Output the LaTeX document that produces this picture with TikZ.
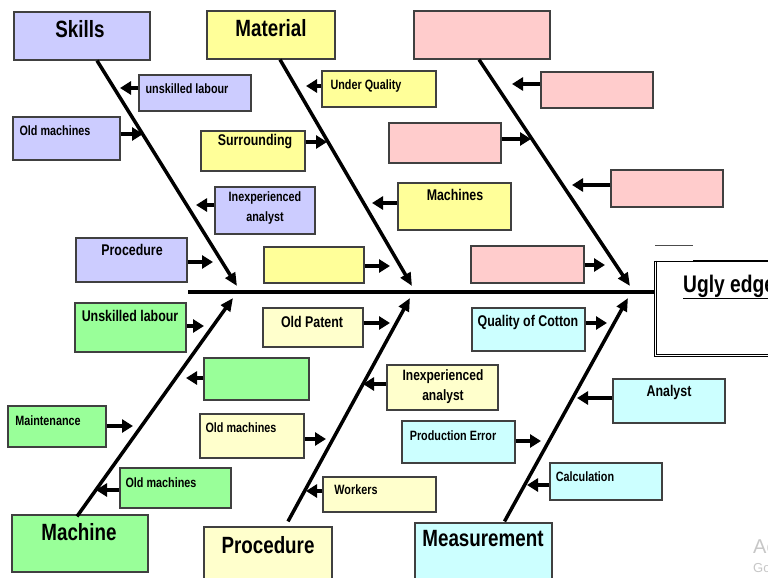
\documentclass[tikz,border=0pt]{standalone}
\usepackage{fontspec}
\setmainfont{Liberation Sans}[FakeStretch=0.8]
\newfontfamily\wmfont{Liberation Sans}
\usetikzlibrary{arrows.meta,calc}
\definecolor{lav}{HTML}{CCCCFF}
\definecolor{yel}{HTML}{FFFF99}
\definecolor{pnk}{HTML}{FFCCCC}
\definecolor{grn}{HTML}{99FF99}
\definecolor{lyel}{HTML}{FFFFCC}
\definecolor{cyn}{HTML}{CCFFFF}
\definecolor{edge}{HTML}{404040}
\tikzset{
  box/.style={draw=edge, line width=1.2pt, rectangle, inner sep=0pt},
  hdr/.style={inner sep=0pt, font=\fontsize{23.5}{26}\selectfont\bfseries},
  lab/.style={inner sep=0pt, font=\fontsize{15.5}{19}\selectfont\bfseries, align=center},
  labs/.style={inner sep=0pt, font=\fontsize{13.5}{16}\selectfont\bfseries, align=center},
  sub/.style={line width=3.5pt, -{Triangle[length=11pt,width=13pt]}},
  bone/.style={line width=3.5pt, -{Triangle[length=13pt,width=11pt]}},
  spine/.style={line width=4.5pt},
}
\begin{document}
\begin{tikzpicture}[x=1pt,y=-1pt]
\useasboundingbox (0,0) rectangle (768,578);
\clip (0,0) rectangle (768,578);
\fill[white] (0,0) rectangle (768,578);

% ---------- effect box (double-ruled frame) ----------
\node[draw=black, line width=1pt, rectangle, inner sep=0pt, fill=white,
      minimum width=146pt, minimum height=95pt] (ugly) at (727,308.5) {};
\coordinate (innerL) at ($(ugly.north west)+(2.5,0)$);
\coordinate (innerB) at ($(ugly.south west)+(2.5,-2.5)$);
\draw[line width=0.8pt] (innerL) -- (innerB) -- (innerB -| ugly.east);
\coordinate (topA) at (693,260.5);
\draw[line width=1.6pt] (topA) -- (ugly.north east |- topA);
\coordinate (markL) at (655,245);
\coordinate (markR) at (693,245);
\draw[line width=1pt, black!70] (markL) -- (markR);
\node[anchor=base west, inner sep=0pt, font=\fontsize{24}{28}\selectfont\bfseries]
  (uglyT) at (683,292) {\underline{Ugly edge}};

% ---------- spine ----------
\coordinate (spineL) at (188,292);
\draw[spine] (spineL) -- (ugly.west |- spineL);

% ---------- category headers ----------
\node[box, fill=lav,  minimum width=136pt, minimum height=48pt] (skills)   at (82,36) {};
\node[box, fill=yel,  minimum width=128pt, minimum height=48pt] (material) at (271,35) {};
\node[box, fill=pnk,  minimum width=136pt, minimum height=48pt] (pinkhd)   at (482,35) {};
\node[box, fill=grn,  minimum width=136pt, minimum height=57pt] (machine)  at (80,543.5) {};
\node[box, fill=lyel, minimum width=128pt, minimum height=58pt] (proc)     at (268,556) {};
\node[box, fill=cyn,  minimum width=137pt, minimum height=62pt] (meas)     at (483.5,554) {};

\node[hdr] (skillsT)   at (80,29)   {Skills};
\node[hdr] (materialT) at (271,28)  {Material};
\node[hdr] (machineT)  at (79,532)  {Machine};
\node[hdr] (procT)     at (268,545) {Procedure};
\node[hdr] (measT)     at (483,539) {Measurement};

% ---------- bones ----------
\coordinate (tipA) at (237,286);
\coordinate (tipB) at (412,286);
\coordinate (tipC) at (630,286);
\coordinate (tipD) at (233,298);
\coordinate (tipE) at (410,298);
\coordinate (tipF) at (628,298);
\draw[bone] ($(skills.south)+(15,0)$)   -- (tipA);
\draw[bone] ($(material.south)+(9,0)$)  -- (tipB);
\draw[bone] ($(pinkhd.south)+(-3,0)$)   -- (tipC);
\draw[bone] ($(machine.north)+(-3,2)$)  -- (tipD);
\draw[bone] ($(proc.north)+(20,-5)$)    -- (tipE);
\draw[bone] ($(meas.north)+(21,-1)$)    -- (tipF);

% ---------- Skills causes ----------
\node[box, fill=lav, minimum width=112pt, minimum height=36pt] (s1) at (195,93) {};
\node[box, fill=lav, minimum width=107pt, minimum height=43pt] (s2) at (66.5,138.5) {};
\node[box, fill=lav, minimum width=100pt, minimum height=47pt] (s3) at (265,210.5) {};
\node[box, fill=lav, minimum width=111pt, minimum height=44pt] (s4) at (131.5,260) {};
\node[labs] (s1t) at (187,89)  {unskilled labour};
\node[labs] (s2t) at (55,131)  {Old machines};
\node[labs, font=\fontsize{13.5}{20}\selectfont\bfseries] (s3t) at (265,208) {Inexperienced\\analyst};
\node[lab]  (s4t) at (132,250) {Procedure};
\coordinate (s1a) at (120,88);
\coordinate (s2a) at (143,134);
\coordinate (s3a) at (196,205);
\coordinate (s4a) at (213,262);
\draw[sub] (s1.west |- s1a) -- (s1a);
\draw[sub] (s2.east |- s2a) -- (s2a);
\draw[sub] (s3.west |- s3a) -- (s3a);
\draw[sub] (s4.east |- s4a) -- (s4a);

% ---------- Material causes ----------
\node[box, fill=yel, minimum width=114pt, minimum height=36pt] (m1) at (379,89) {};
\node[box, fill=yel, minimum width=104pt, minimum height=40pt] (m2) at (253,151) {};
\node[box, fill=yel, minimum width=113pt, minimum height=47pt] (m3) at (454.5,206.5) {};
\node[box, fill=yel, minimum width=100pt, minimum height=36pt] (m4) at (314,265) {};
\node[labs] (m1t) at (366,86)  {Under Quality};
\node[lab]  (m2t) at (255,142) {Surrounding};
\node[lab]  (m3t) at (455,195) {Machines};
\coordinate (m1a) at (306,86);
\coordinate (m2a) at (327,142);
\coordinate (m3a) at (372,203);
\coordinate (m4a) at (390,266);
\draw[sub] (m1.west |- m1a) -- (m1a);
\draw[sub] (m2.east |- m2a) -- (m2a);
\draw[sub] (m3.west |- m3a) -- (m3a);
\draw[sub] (m4.east |- m4a) -- (m4a);

% ---------- unnamed category causes ----------
\node[box, fill=pnk, minimum width=112pt, minimum height=36pt] (p1) at (597,90) {};
\node[box, fill=pnk, minimum width=112pt, minimum height=40pt] (p2) at (445,143) {};
\node[box, fill=pnk, minimum width=112pt, minimum height=37pt] (p3) at (667,188.5) {};
\node[box, fill=pnk, minimum width=113pt, minimum height=37pt] (p4) at (527.5,264.5) {};
\coordinate (p1a) at (512,84);
\coordinate (p2a) at (531,139);
\coordinate (p3a) at (572,185);
\coordinate (p4a) at (605,265);
\draw[sub] (p1.west |- p1a) -- (p1a);
\draw[sub] (p2.east |- p2a) -- (p2a);
\draw[sub] (p3.west |- p3a) -- (p3a);
\draw[sub] (p4.east |- p4a) -- (p4a);

% ---------- Machine causes ----------
\node[box, fill=grn, minimum width=111pt, minimum height=49pt] (g1) at (130.5,327.5) {};
\node[box, fill=grn, minimum width=105pt, minimum height=42pt] (g2) at (256.5,379) {};
\node[box, fill=grn, minimum width=98pt,  minimum height=41pt] (g3) at (57,426.5) {};
\node[box, fill=grn, minimum width=111pt, minimum height=40pt] (g4) at (175.5,488) {};
\node[lab]  (g1t) at (130,316) {Unskilled labour};
\node[labs] (g3t) at (48,421)  {Maintenance};
\node[labs] (g4t) at (161,483) {Old machines};
\coordinate (g1a) at (204,326);
\coordinate (g2a) at (186,378);
\coordinate (g3a) at (133,426);
\coordinate (g4a) at (96,490);
\draw[sub] (g1.east |- g1a) -- (g1a);
\draw[sub] (g2.west |- g2a) -- (g2a);
\draw[sub] (g3.east |- g3a) -- (g3a);
\draw[sub] (g4.west |- g4a) -- (g4a);

% ---------- Procedure causes ----------
\node[box, fill=lyel, minimum width=100pt, minimum height=39pt] (r1) at (313,327.5) {};
\node[box, fill=lyel, minimum width=111pt, minimum height=45pt] (r2) at (442.5,387.5) {};
\node[box, fill=lyel, minimum width=104pt, minimum height=44pt] (r3) at (252,436) {};
\node[box, fill=lyel, minimum width=113pt, minimum height=35pt] (r4) at (379.5,494.5) {};
\node[lab]  (r1t) at (312,322) {Old Patent};
\node[lab, font=\fontsize{15}{20}\selectfont\bfseries] (r2t) at (443,387) {Inexperienced\\analyst};
\node[labs] (r3t) at (241,428) {Old machines};
\node[labs] (r4t) at (356,490) {Workers};
\coordinate (r1a) at (390,323);
\coordinate (r2a) at (363,384);
\coordinate (r3a) at (326,439);
\coordinate (r4a) at (306,491);
\draw[sub] (r1.east |- r1a) -- (r1a);
\draw[sub] (r2.west |- r2a) -- (r2a);
\draw[sub] (r3.east |- r3a) -- (r3a);
\draw[sub] (r4.west |- r4a) -- (r4a);

% ---------- Measurement causes ----------
\node[box, fill=cyn, minimum width=113pt, minimum height=43pt] (q1) at (528.5,329.5) {};
\node[box, fill=cyn, minimum width=112pt, minimum height=44pt] (q2) at (669,401) {};
\node[box, fill=cyn, minimum width=113pt, minimum height=42pt] (q3) at (458.5,442) {};
\node[box, fill=cyn, minimum width=112pt, minimum height=37pt] (q4) at (606,481.5) {};
\node[lab]  (q1t) at (528,322) {Quality of Cotton};
\node[lab]  (q2t) at (669,392) {Analyst};
\node[labs] (q3t) at (453,436) {Production Error};
\node[labs] (q4t) at (585,477) {Calculation};
\coordinate (q1a) at (607,323);
\coordinate (q2a) at (577,398);
\coordinate (q3a) at (541,441);
\coordinate (q4a) at (527,485);
\draw[sub] (q1.east |- q1a) -- (q1a);
\draw[sub] (q2.west |- q2a) -- (q2a);
\draw[sub] (q3.east |- q3a) -- (q3a);
\draw[sub] (q4.west |- q4a) -- (q4a);

% ---------- faint system overlay text ----------
\node[anchor=base west, inner sep=0pt, text=black!22, font=\wmfont\fontsize{20}{22}\selectfont] (wm1) at (753,553) {Ac};
\node[anchor=base west, inner sep=0pt, text=black!22, font=\wmfont\fontsize{13}{15}\selectfont] (wm2) at (753,572) {Go};
\end{tikzpicture}
\end{document}
